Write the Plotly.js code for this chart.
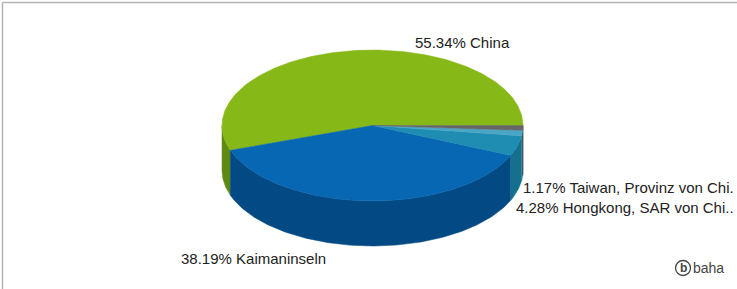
<!DOCTYPE html>
<html>
<head>
<meta charset="utf-8">
<script src="https://cdn.plot.ly/plotly-3.0.1.min.js"></script>
<style>html,body{margin:0;padding:0;background:#fff;}#chart{width:737px;height:289px;}</style>
</head>
<body>
<div id="chart"></div>
<script>
// ---- data ----
const categories = ['China', 'Kaimaninseln', 'Hongkong, SAR von Chi..', 'Taiwan, Provinz von Chi.', 'Sonstige'];
const values = [55.34, 38.19, 4.28, 1.17, 1.02];
const shownLabels = [true, true, true, true, false];

// ---- styles ----
const topColors  = ['#86b817', '#0767b2', '#1f8db2', '#4aa6c4', '#666666'];
const wallColors = ['#5f8a12', '#034a84', '#14708c', '#2c8299', '#3d3d3d'];
const labelPos = [
  {x: 413, y: 42,  xanchor: 'left'},
  {x: 179, y: 258, xanchor: 'left'},
  {x: 736, y: 207, xanchor: 'right'},
  {x: 736, y: 187, xanchor: 'right'},
  null
];
const geo = {cx: 372.5, cy: 125.5, rx: 150.5, ry: 75.5, depth: 45};

const total = values.reduce((a, b) => a + b, 0);
function pt(deg, dy) {
  const r = deg * Math.PI / 180;
  return [geo.cx + geo.rx * Math.cos(r), geo.cy - geo.ry * Math.sin(r) + (dy || 0)];
}
function arc(a0, a1, dy) {
  const n = Math.max(2, Math.ceil(Math.abs(a1 - a0) / 1));
  const out = [];
  for (let i = 0; i <= n; i++) out.push(pt(a0 + (a1 - a0) * i / n, dy));
  return out;
}

const traces = [];
let start = 0;
const slices = values.map((v, i) => {
  const a0 = start, a1 = start + v / total * 360;
  start = a1;
  return {a0, a1, i};
});

// walls (front half: 180..360)
slices.forEach(s => {
  const lo = Math.max(s.a0, 180), hi = Math.min(s.a1, 360);
  if (hi <= lo) return;
  const topArc = arc(lo, hi, 0);
  const botArc = arc(hi, lo, geo.depth);
  const pts = topArc.concat(botArc);
  pts.push(pts[0]);
  traces.push({
    type: 'scatter', mode: 'lines', fill: 'toself',
    x: pts.map(p => p[0]), y: pts.map(p => p[1]),
    fillcolor: wallColors[s.i], line: {color: wallColors[s.i], width: 0.5},
    hoverinfo: 'skip', showlegend: false
  });
});

// top faces
slices.forEach(s => {
  const pts = [[geo.cx, geo.cy]].concat(arc(s.a0, s.a1, 0));
  pts.push([geo.cx, geo.cy]);
  traces.push({
    type: 'scatter', mode: 'lines', fill: 'toself',
    x: pts.map(p => p[0]), y: pts.map(p => p[1]),
    fillcolor: topColors[s.i], line: {color: topColors[s.i], width: 0.5},
    hoverinfo: 'skip', showlegend: false
  });
});

const annotations = [];
slices.forEach(s => {
  if (!shownLabels[s.i]) return;
  const p = labelPos[s.i];
  annotations.push({
    x: p.x, y: p.y, xref: 'x', yref: 'y', xanchor: p.xanchor, yanchor: 'middle',
    text: values[s.i].toFixed(2) + '% ' + categories[s.i], showarrow: false,
    font: {family: 'Liberation Sans, Arial, sans-serif', size: 15, color: '#222'}
  });
});
annotations.push({
  x: 691, y: 268, xref: 'x', yref: 'y', xanchor: 'left', yanchor: 'middle',
  text: 'baha', showarrow: false,
  font: {family: 'Liberation Sans, Arial, sans-serif', size: 14, color: '#444'}
});
annotations.push({
  x: 683, y: 268, xref: 'x', yref: 'y', xanchor: 'center', yanchor: 'middle',
  text: '<b>b</b>', showarrow: false,
  font: {family: 'Liberation Sans, Arial, sans-serif', size: 12, color: '#444'}
});

const layout = {
  width: 737, height: 289,
  margin: {l: 0, r: 0, t: 0, b: 0},
  paper_bgcolor: '#fff', plot_bgcolor: '#fff',
  xaxis: {range: [0, 737], visible: false, fixedrange: true},
  yaxis: {range: [289, 0], visible: false, fixedrange: true},
  showlegend: false,
  annotations: annotations,
  shapes: [
    {type: 'line', xref: 'x', yref: 'y', x0: 2.5, y0: 2.5, x1: 737, y1: 2.5, line: {color: '#b4b4b4', width: 1.5}},
    {type: 'line', xref: 'x', yref: 'y', x0: 2.5, y0: 2.5, x1: 2.5, y1: 289, line: {color: '#b4b4b4', width: 1.5}},
    {type: 'circle', xref: 'x', yref: 'y', x0: 675.5, y0: 260.5, x1: 690.5, y1: 275.5, line: {color: '#444', width: 1.3}}
  ]
};

Plotly.newPlot('chart', traces, layout, {staticPlot: true, displayModeBar: false});
</script>
</body>
</html>
